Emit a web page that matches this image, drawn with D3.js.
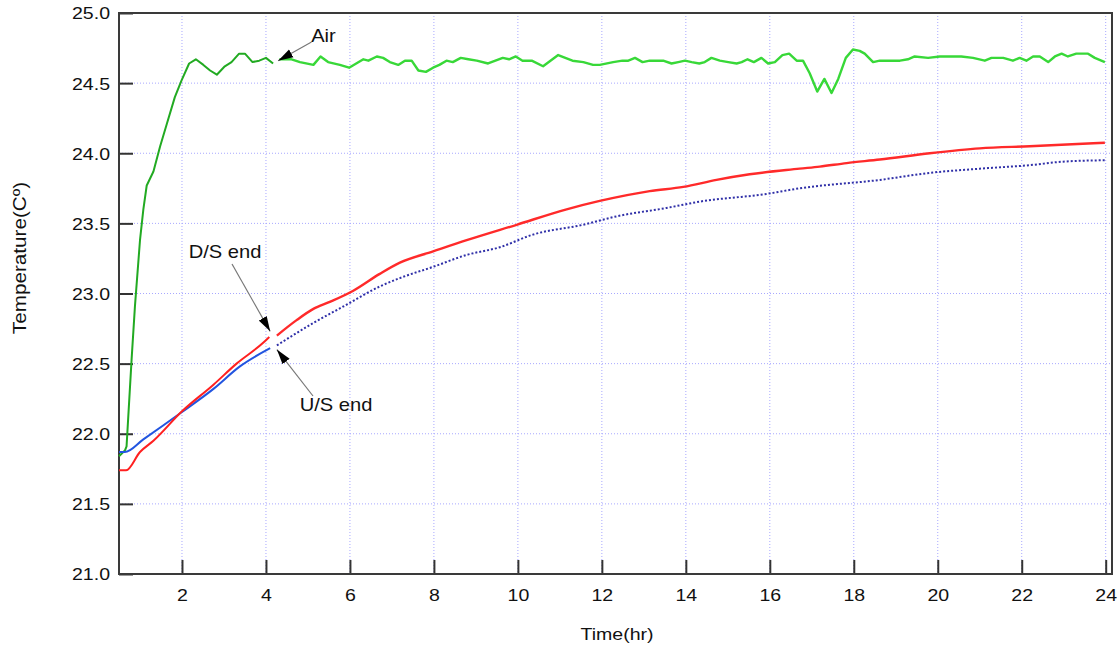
<!DOCTYPE html>
<html>
<head>
<meta charset="utf-8">
<script src="https://cdn.jsdelivr.net/npm/d3@7"></script>
<style>
  html, body { margin: 0; padding: 0; background: #fff; }
  svg { display: block; font-family: "Liberation Sans", Arial, sans-serif; }
</style>
</head>
<body>
<svg id="chart" width="1120" height="653"></svg>
<script>
// Air temperature, first logging run (hr, °C)
const airTimeA = [0.5, 0.64, 0.68, 0.80, 0.88, 1.0, 1.08, 1.16, 1.32, 1.48, 1.64, 1.83, 1.99, 2.17, 2.33, 2.51, 2.67, 2.83, 3.02, 3.18, 3.36, 3.5, 3.68, 3.84, 4.0, 4.17];
const airTempA = [21.84, 21.88, 21.91, 22.53, 22.91, 23.38, 23.60, 23.77, 23.87, 24.05, 24.21, 24.40, 24.52, 24.64, 24.67, 24.63, 24.59, 24.56, 24.62, 24.65, 24.71, 24.71, 24.65, 24.66, 24.68, 24.64];

// Air temperature, second logging run
const airTimeB = [4.32, 4.61, 4.81, 5.13, 5.30, 5.48, 5.76, 5.98, 6.32, 6.44, 6.64, 6.79, 6.95, 7.15, 7.31, 7.47, 7.63, 7.81, 7.98, 8.13, 8.30, 8.45, 8.64, 8.82, 9.02, 9.29, 9.64, 9.79, 9.95, 10.11, 10.33, 10.60, 10.96, 11.30, 11.56, 11.79, 11.95, 12.27, 12.49, 12.63, 12.79, 12.97, 13.14, 13.30, 13.46, 13.66, 13.82, 13.98, 14.14, 14.32, 14.45, 14.61, 14.81, 15.01, 15.21, 15.33, 15.47, 15.62, 15.80, 15.96, 16.12, 16.30, 16.46, 16.64, 16.79, 16.95, 17.13, 17.30, 17.47, 17.63, 17.81, 17.98, 18.14, 18.26, 18.46, 18.62, 18.86, 19.10, 19.29, 19.45, 19.77, 20.05, 20.29, 20.56, 20.84, 21.12, 21.28, 21.56, 21.79, 21.95, 22.11, 22.27, 22.43, 22.63, 22.79, 22.95, 23.10, 23.30, 23.58, 23.74, 23.98];
const airTempB = [24.67, 24.67, 24.65, 24.63, 24.69, 24.65, 24.63, 24.61, 24.67, 24.66, 24.69, 24.68, 24.65, 24.63, 24.66, 24.66, 24.59, 24.58, 24.61, 24.63, 24.66, 24.65, 24.68, 24.67, 24.66, 24.64, 24.68, 24.67, 24.69, 24.66, 24.66, 24.62, 24.70, 24.66, 24.65, 24.63, 24.63, 24.65, 24.66, 24.66, 24.68, 24.65, 24.66, 24.66, 24.66, 24.64, 24.65, 24.66, 24.65, 24.64, 24.65, 24.68, 24.66, 24.65, 24.64, 24.65, 24.67, 24.65, 24.68, 24.64, 24.65, 24.70, 24.71, 24.66, 24.66, 24.57, 24.44, 24.53, 24.43, 24.53, 24.68, 24.74, 24.73, 24.71, 24.65, 24.66, 24.66, 24.66, 24.67, 24.69, 24.68, 24.69, 24.69, 24.69, 24.68, 24.66, 24.68, 24.68, 24.66, 24.68, 24.66, 24.69, 24.69, 24.65, 24.69, 24.71, 24.69, 24.71, 24.71, 24.68, 24.65];

// Downstream end (D/S)
const dsTimeA = [0.5, 0.67, 1.0, 1.32, 2.0, 2.75, 3.30, 3.94, 4.08];
const dsTempA = [21.74, 21.74, 21.87, 21.95, 22.16, 22.35, 22.50, 22.65, 22.69];
const dsTimeB = [4.26, 4.73, 5.13, 5.52, 6.08, 6.71, 7.19, 7.98, 8.78, 9.97, 11.16, 11.95, 13.14, 13.94, 14.73, 15.52, 16.71, 17.19, 17.83, 18.62, 19.81, 21.0, 22.19, 23.98];
const dsTempB = [22.70, 22.81, 22.89, 22.94, 23.02, 23.14, 23.22, 23.30, 23.38, 23.49, 23.60, 23.66, 23.73, 23.76, 23.81, 23.85, 23.89, 23.905, 23.93, 23.955, 24.00, 24.035, 24.05, 24.075];

// Upstream end (U/S)
const usTimeA = [0.5, 0.64, 1.08, 2.0, 2.75, 3.38, 4.10];
const usTempA = [21.87, 21.87, 21.96, 22.155, 22.32, 22.48, 22.61];
const usTimeB = [4.26, 5.13, 5.92, 6.71, 7.19, 7.98, 8.78, 9.57, 10.36, 11.55, 12.35, 13.54, 14.33, 15.92, 16.71, 18.62, 19.81, 21.0, 22.19, 22.98, 23.98];
const usTempB = [22.63, 22.79, 22.92, 23.05, 23.11, 23.19, 23.275, 23.33, 23.42, 23.49, 23.55, 23.61, 23.655, 23.71, 23.75, 23.81, 23.86, 23.89, 23.915, 23.94, 23.95];

const xTicks = [2, 4, 6, 8, 10, 12, 14, 16, 18, 20, 22, 24];
const yTicks = [21.0, 21.5, 22.0, 22.5, 23.0, 23.5, 24.0, 24.5, 25.0];

const svg = d3.select("#chart");
const plotLeft = 119, plotRight = 1112, plotTop = 13, plotBottom = 574;
const stretch = 1.15;   // wide rendering of the label font
const FONT = "'Liberation Sans', Arial, sans-serif";

const x = d3.scaleLinear().domain([0.5, 24.15]).range([plotLeft, plotRight]);
const y = d3.scaleLinear().domain([21, 25]).range([plotBottom, plotTop]);

// grid
const grid = svg.append("g").attr("stroke", "#a8a8ff").attr("stroke-width", 1)
  .attr("stroke-dasharray", "1,2");
grid.selectAll("line.v").data(xTicks).join("line").attr("class", "v")
  .attr("x1", d => x(d)).attr("x2", d => x(d)).attr("y1", plotTop).attr("y2", plotBottom);
grid.selectAll("line.h").data(yTicks.filter(d => d > 21 && d < 25)).join("line").attr("class", "h")
  .attr("x1", plotLeft).attr("x2", plotRight).attr("y1", d => y(d)).attr("y2", d => y(d));

// axes with inward ticks
const xAxis = d3.axisBottom(x).tickValues(xTicks).tickSizeInner(-14).tickSizeOuter(0)
  .tickFormat(d3.format("d"));
const yAxis = d3.axisLeft(y).tickValues(yTicks).tickSizeInner(-14).tickSizeOuter(0)
  .tickFormat(d3.format(".1f"));

const gx = svg.append("g").attr("transform", `translate(0,${plotBottom})`).call(xAxis);
const gy = svg.append("g").attr("transform", `translate(${plotLeft},0)`).call(yAxis);
[gx, gy].forEach(g => {
  g.select(".domain").remove();
  g.selectAll(".tick line").attr("stroke", "#333").attr("stroke-width", 2);
  g.selectAll(".tick text").attr("fill", "#111").attr("font-size", 17)
    .attr("font-family", FONT).attr("transform", `scale(${stretch},1)`);
});
gy.selectAll(".tick text").attr("x", -9 / stretch).attr("dy", "0.35em");
gx.selectAll(".tick text").attr("y", 15).attr("dy", "0.71em");

// frame
svg.append("rect").attr("x", plotLeft).attr("y", plotTop)
  .attr("width", plotRight - plotLeft).attr("height", plotBottom - plotTop)
  .attr("fill", "none").attr("stroke", "#3a3a3a").attr("stroke-width", 2);

const zipSeries = (t, v) => t.map((d, i) => [d, v[i]]);
const jagged = d3.line().x(d => x(d[0])).y(d => y(d[1]));
const smooth = d3.line().x(d => x(d[0])).y(d => y(d[1])).curve(d3.curveMonotoneX);

const series = [
  { t: airTimeA, v: airTempA, color: "#22aa22", width: 2, dash: null, gen: jagged },
  { t: airTimeB, v: airTempB, color: "#38d838", width: 2.4, dash: null, gen: jagged },
  { t: usTimeA, v: usTempA, color: "#2255e0", width: 2, dash: null, gen: smooth },
  { t: usTimeB, v: usTempB, color: "#3030a8", width: 2, dash: "2,2", gen: smooth },
  { t: dsTimeA, v: dsTempA, color: "#ff2020", width: 2, dash: null, gen: smooth },
  { t: dsTimeB, v: dsTempB, color: "#ff2a2a", width: 2.4, dash: null, gen: smooth }
];

svg.append("g").attr("fill", "none").selectAll("path").data(series).join("path")
  .attr("d", s => s.gen(zipSeries(s.t, s.v)))
  .attr("stroke", s => s.color)
  .attr("stroke-width", s => s.width)
  .attr("stroke-dasharray", s => s.dash)
  .attr("stroke-linejoin", "round");

// text helper: horizontally widened label anchored at (ax, ay)
function label(txt, ax, ay, size, rotate) {
  const rot = rotate ? ` rotate(${rotate})` : "";
  return svg.append("text")
    .attr("transform", `translate(${ax},${ay})${rot} scale(${stretch},1)`)
    .attr("text-anchor", "middle").attr("font-size", size).attr("font-family", FONT)
    .attr("fill", "#111").text(txt);
}

// axis titles
label("Time(hr)", 617, 640, 17);
label("Temperature(Cº)", 26, 258, 18, -90);

// annotations with arrows
const defs = svg.append("defs");
defs.append("marker").attr("id", "arrowhead").attr("viewBox", "0 0 15 10")
  .attr("refX", 15).attr("refY", 5).attr("markerWidth", 15).attr("markerHeight", 10)
  .attr("markerUnits", "userSpaceOnUse").attr("orient", "auto")
  .append("path").attr("d", "M0,0.5 L15,5 L0,9.5 Z").attr("fill", "#000");

const notes = [
  { text: "Air", tx: 323.5, ty: 41.5, from: [311.5, 42], to: [4.29, 24.66] },
  { text: "D/S end", tx: 225, ty: 258, from: [232, 264], to: [4.10, 22.73] },
  { text: "U/S end", tx: 336, ty: 411, from: [313, 396], to: [4.26, 22.60] }
];
notes.forEach(n => {
  svg.append("line")
    .attr("x1", n.from[0]).attr("y1", n.from[1])
    .attr("x2", x(n.to[0])).attr("y2", y(n.to[1]))
    .attr("stroke", "#777").attr("stroke-width", 1.2)
    .attr("marker-end", "url(#arrowhead)");
  label(n.text, n.tx, n.ty, 17.5);
});
</script>
</body>
</html>
